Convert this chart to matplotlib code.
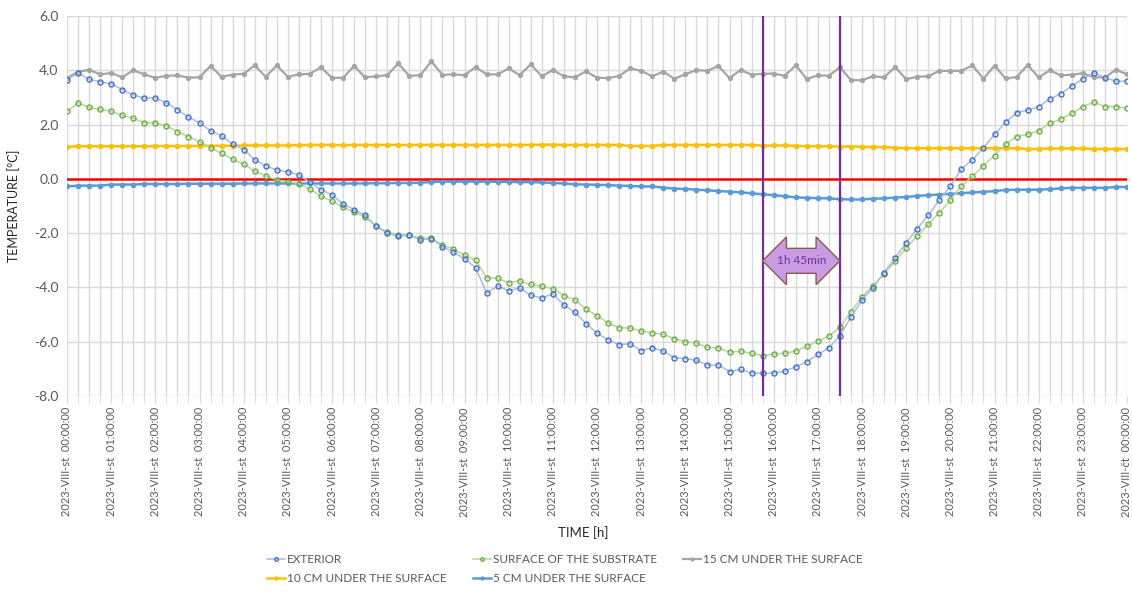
#!/usr/bin/env python3
import numpy as np
import matplotlib
matplotlib.use('Agg')
import matplotlib.pyplot as plt
from matplotlib.patches import Polygon

plt.rcParams['font.family'] = ['Lato', 'DejaVu Sans']

# ------------------------------------------------------------------------------
# Data: 15-minute readings over one day (97 points, 00:00 .. 24:00)
# ------------------------------------------------------------------------------
hours = np.arange(97) * 0.25

exterior = [
    3.64, 3.90, 3.67, 3.58, 3.50, 3.29, 3.10, 2.97, 2.98, 2.80,
    2.55, 2.27, 2.07, 1.77, 1.58, 1.29, 1.08, 0.70, 0.48, 0.32,
    0.26, 0.15, -0.12, -0.40, -0.59, -0.92, -1.13, -1.35, -1.75, -2.00,
    -2.12, -2.07, -2.25, -2.20, -2.50, -2.70, -2.95, -3.27, -4.21, -3.96,
    -4.12, -4.02, -4.29, -4.39, -4.24, -4.64, -4.92, -5.33, -5.68, -5.93,
    -6.11, -6.07, -6.33, -6.22, -6.35, -6.59, -6.62, -6.69, -6.86, -6.86,
    -7.10, -7.02, -7.16, -7.16, -7.16, -7.08, -6.92, -6.74, -6.47, -6.23,
    -5.78, -5.10, -4.46, -4.01, -3.45, -2.91, -2.35, -1.83, -1.34, -0.78,
    -0.28, 0.37, 0.70, 1.14, 1.64, 2.08, 2.44, 2.53, 2.66, 2.94,
    3.14, 3.42, 3.68, 3.91, 3.73, 3.60, 3.60,
]

substrate = [
    2.49, 2.79, 2.63, 2.56, 2.49, 2.34, 2.23, 2.07, 2.06, 1.95,
    1.74, 1.56, 1.37, 1.15, 0.94, 0.72, 0.54, 0.29, 0.11, -0.04,
    -0.10, -0.18, -0.37, -0.65, -0.81, -1.05, -1.22, -1.41, -1.75, -1.95,
    -2.06, -2.07, -2.19, -2.18, -2.44, -2.58, -2.82, -2.99, -3.64, -3.67,
    -3.82, -3.76, -3.89, -3.96, -4.04, -4.30, -4.46, -4.80, -5.04, -5.31,
    -5.49, -5.49, -5.61, -5.67, -5.73, -5.89, -6.00, -6.05, -6.21, -6.23,
    -6.38, -6.35, -6.43, -6.51, -6.46, -6.42, -6.35, -6.17, -5.98, -5.79,
    -5.47, -4.89, -4.36, -3.93, -3.50, -3.03, -2.54, -2.11, -1.67, -1.25,
    -0.79, -0.26, 0.09, 0.49, 0.86, 1.28, 1.56, 1.64, 1.78, 2.04,
    2.20, 2.41, 2.66, 2.83, 2.66, 2.66, 2.60,
]

cm15 = [
    3.72, 3.94, 4.02, 3.85, 3.90, 3.74, 4.00, 3.85, 3.72, 3.80,
    3.81, 3.73, 3.74, 4.16, 3.76, 3.84, 3.87, 4.18, 3.76, 4.18,
    3.76, 3.85, 3.87, 4.11, 3.72, 3.72, 4.16, 3.74, 3.78, 3.82,
    4.25, 3.79, 3.82, 4.33, 3.83, 3.85, 3.82, 4.12, 3.85, 3.85,
    4.07, 3.82, 4.22, 3.78, 4.01, 3.78, 3.74, 3.96, 3.73, 3.71,
    3.79, 4.07, 3.98, 3.78, 3.95, 3.69, 3.85, 4.01, 3.98, 4.16,
    3.71, 4.01, 3.84, 3.87, 3.88, 3.80, 4.18, 3.68, 3.81, 3.80,
    4.11, 3.64, 3.63, 3.78, 3.74, 4.12, 3.67, 3.76, 3.78, 3.98,
    3.98, 3.98, 4.18, 3.69, 4.17, 3.70, 3.75, 4.19, 3.74, 4.00,
    3.81, 3.84, 3.89, 3.74, 3.74, 4.02, 3.85,
]

cm10 = [
    1.18, 1.20, 1.20, 1.20, 1.20, 1.20, 1.20, 1.20, 1.21, 1.21,
    1.21, 1.21, 1.21, 1.22, 1.22, 1.22, 1.23, 1.23, 1.23, 1.23,
    1.23, 1.24, 1.25, 1.25, 1.25, 1.24, 1.25, 1.25, 1.25, 1.25,
    1.25, 1.25, 1.25, 1.25, 1.25, 1.25, 1.25, 1.25, 1.25, 1.25,
    1.25, 1.25, 1.25, 1.26, 1.26, 1.25, 1.25, 1.25, 1.25, 1.25,
    1.25, 1.21, 1.21, 1.21, 1.25, 1.25, 1.25, 1.25, 1.25, 1.25,
    1.25, 1.25, 1.25, 1.22, 1.23, 1.23, 1.22, 1.20, 1.20, 1.20,
    1.19, 1.19, 1.18, 1.18, 1.17, 1.15, 1.13, 1.13, 1.13, 1.13,
    1.13, 1.13, 1.13, 1.13, 1.13, 1.13, 1.13, 1.10, 1.10, 1.12,
    1.12, 1.12, 1.12, 1.10, 1.10, 1.10, 1.10,
]

cm5 = [
    -0.28, -0.25, -0.25, -0.25, -0.21, -0.21, -0.21, -0.19, -0.19, -0.19,
    -0.19, -0.18, -0.18, -0.18, -0.18, -0.18, -0.17, -0.17, -0.17, -0.17,
    -0.17, -0.17, -0.17, -0.17, -0.17, -0.17, -0.17, -0.17, -0.16, -0.16,
    -0.15, -0.15, -0.14, -0.12, -0.10, -0.10, -0.10, -0.10, -0.10, -0.11,
    -0.11, -0.12, -0.12, -0.13, -0.15, -0.17, -0.20, -0.21, -0.22, -0.23,
    -0.25, -0.26, -0.28, -0.28, -0.32, -0.36, -0.37, -0.40, -0.42, -0.45,
    -0.47, -0.50, -0.53, -0.57, -0.60, -0.64, -0.68, -0.70, -0.71, -0.72,
    -0.75, -0.76, -0.76, -0.73, -0.72, -0.69, -0.67, -0.63, -0.60, -0.58,
    -0.55, -0.53, -0.50, -0.48, -0.45, -0.41, -0.40, -0.40, -0.40, -0.38,
    -0.35, -0.33, -0.33, -0.33, -0.33, -0.30, -0.30,
]

tick_labels = ['2023-VIII-st  %02d:00:00' % h for h in range(24)] + ['2023-VIII-čt  00:00:00']

# delay between minimum of air and minimum of the 5 cm layer
t_start, t_end = 15.75, 17.5
delay_text = '1h 45min'

# ------------------------------------------------------------------------------
# Plot
# ------------------------------------------------------------------------------
fig = plt.figure(figsize=(11.32, 5.94), dpi=100)
ax = fig.add_axes([67 / 1132, 1 - 396 / 594, 1060 / 1132, 380 / 594])

grid_c = '#d9d9d9'
txt_c = '#595959'

ax.set_xlim(0, 24)
ax.set_ylim(-8, 6)
ax.set_yticks(np.arange(-8, 6.1, 2))
ax.set_yticklabels(['%.1f' % v for v in np.arange(-8, 6.1, 2)])
ax.set_xticks(np.arange(0, 24.1, 1))
ax.set_xticks(hours, minor=True)
ax.set_xticklabels(tick_labels, rotation=90)
ax.grid(True, which='both', axis='x', color=grid_c, lw=1)
ax.grid(True, which='major', axis='y', color=grid_c, lw=1)
ax.set_axisbelow(True)
for s in ax.spines.values():
    s.set_visible(False)
ax.tick_params(axis='y', length=0, labelsize=10, labelcolor=txt_c, pad=6)
ax.tick_params(axis='x', which='both', length=5, color=grid_c, labelsize=8,
               labelcolor=txt_c, pad=3)

ax.set_ylabel('TEMPERATURE [°C]', fontsize=9, color='#262626', labelpad=10)
fig.text(583 / 1132, 1 - 533 / 594, 'TIME [h]', fontsize=9.5, color='#262626',
         ha='center', va='center')

# zero line
ax.axhline(0, color='#ff0000', lw=1.8, zorder=2)

# series
l5, = ax.plot(hours, cm5, color='#5b9bd5', lw=1.8, marker='o', ms=3, zorder=3)
l10, = ax.plot(hours, cm10, color='#ffc000', lw=1.8, marker='o', ms=3, zorder=3)
l15, = ax.plot(hours, cm15, color='#a5a5a5', lw=1.6, marker='o', ms=2.8, zorder=3)
lsub, = ax.plot(hours, substrate, color='#b4d89c', lw=1.1, marker='o', ms=3.6,
                mfc='none', mec='#70ad47', mew=1, zorder=4)
lext, = ax.plot(hours, exterior, color='#a7bde9', lw=1.1, marker='o', ms=3.6,
                mfc='none', mec='#4472c4', mew=1, zorder=4)

# delay markers
for t in (t_start, t_end):
    ax.axvline(t, color='#7030a0', lw=1.6, zorder=5)

# double arrow between the two markers
yc, half_h, half_s, head = -3.02, 0.88, 0.46, 0.54
arrow_pts = [
    (t_start, yc), (t_start + head, yc + half_h), (t_start + head, yc + half_s),
    (t_end - head, yc + half_s), (t_end - head, yc + half_h), (t_end, yc),
    (t_end - head, yc - half_h), (t_end - head, yc - half_s),
    (t_start + head, yc - half_s), (t_start + head, yc - half_h),
]
ax.add_patch(Polygon(arrow_pts, closed=True, fc='#c89be3', ec='#8a5a50', lw=1, zorder=6))
ax.text((t_start + t_end) / 2, yc, delay_text, ha='center', va='center',
        fontsize=8.5, color='#7030a0', zorder=7)

# legend (Excel style, two rows, centred under the chart)
handles = [lext, l10, lsub, l5, l15]
labels = ['EXTERIOR', '10 CM UNDER THE SURFACE', 'SURFACE OF THE SUBSTRATE',
          '5 CM UNDER THE SURFACE', '15 CM UNDER THE SURFACE']
leg = fig.legend(handles, labels, loc='upper center', ncol=3,
                 bbox_to_anchor=(565 / 1132, 1 - 554 / 594), frameon=False,
                 fontsize=8.5, handlelength=1.5, handletextpad=0.2,
                 columnspacing=2.2, labelspacing=0.65, markerscale=0.7,
                 borderaxespad=0, borderpad=0)
for t in leg.get_texts():
    t.set_color(txt_c)

fig.savefig('out.png', dpi=100)
